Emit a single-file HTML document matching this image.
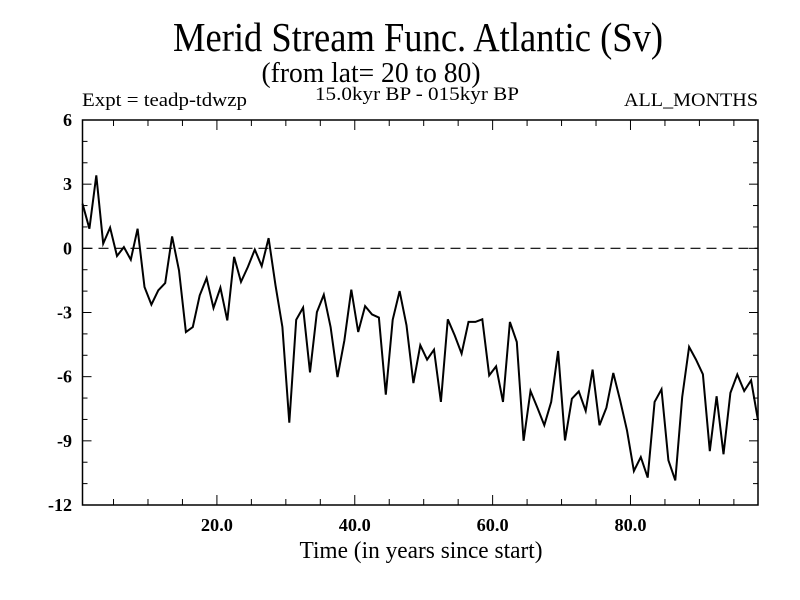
<!DOCTYPE html>
<html><head><meta charset="utf-8"><style>
html,body{margin:0;padding:0;background:#fff;}
svg{display:block;font-family:"Liberation Serif",serif;}
</style></head><body>
<svg id="chart" width="800" height="600" viewBox="0 0 800 600">
<rect width="800" height="600" fill="#fff"/>
<text x="418" y="51" font-size="41" text-anchor="middle" textLength="490" lengthAdjust="spacingAndGlyphs">Merid Stream Func. Atlantic (Sv)</text>
<text x="371" y="82" font-size="28" text-anchor="middle" textLength="219" lengthAdjust="spacingAndGlyphs">(from lat= 20 to 80)</text>
<text x="82" y="106" font-size="19" textLength="165" lengthAdjust="spacingAndGlyphs">Expt = teadp-tdwzp</text>
<text x="315" y="100" font-size="19" textLength="204" lengthAdjust="spacingAndGlyphs">15.0kyr BP - 015kyr BP</text>
<text x="624" y="106" font-size="19" textLength="134" lengthAdjust="spacingAndGlyphs">ALL_MONTHS</text>
<text x="421" y="558" font-size="24" text-anchor="middle" textLength="243" lengthAdjust="spacingAndGlyphs">Time (in years since start)</text>
<g id="axes"></g>
<g id="series"></g>
<rect x="82.5" y="120" width="675.5" height="385" fill="none" stroke="#000" stroke-width="1.5"/>
</svg>
<script>
const yTicks = [6, 3, 0, -3, -6, -9, -12];
const yTickLabels = ["6", "3", "0", "-3", "-6", "-9", "-12"];
const xTicks = [20, 40, 60, 80];
const xTickLabels = ["20.0", "40.0", "60.0", "80.0"];
const years = [];
for (let i = 0; i < 99; i++) years.push(0.5 + i);
const msf = [2.09,0.92,3.41,0.22,0.97,-0.36,0.06,-0.53,0.92,-1.81,
-2.63,-1.96,-1.62,0.56,-1.03,-3.91,-3.68,-2.2,-1.39,-2.79,
-1.84,-3.37,-0.4,-1.57,-0.87,-0.06,-0.83,0.48,-1.73,-3.68,
-8.15,-3.34,-2.77,-5.8,-2.98,-2.17,-3.68,-6.02,-4.3,-1.93,
-3.91,-2.7,-3.09,-3.24,-6.84,-3.34,-2.0,-3.6,-6.3,-4.53,
-5.2,-4.74,-7.18,-3.32,-4.07,-4.92,-3.44,-3.44,-3.32,-5.94,
-5.52,-7.18,-3.44,-4.38,-9.0,-6.67,-7.45,-8.27,-7.18,-4.8,
-8.98,-7.03,-6.69,-7.6,-5.67,-8.27,-7.45,-5.83,-7.1,-8.51,
-10.41,-9.76,-10.72,-7.18,-6.59,-9.91,-10.85,-6.95,-4.61,-5.2,
-5.89,-9.48,-6.92,-9.63,-6.76,-5.9,-6.67,-6.17,-8.04];
const X0 = 82.5, X1 = 758, Y0 = 120, Y1 = 505;
const xMin = 0.5, xMax = 98.5, yMin = -12, yMax = 6;
function xs(v){ return X0 + (v - xMin) / (xMax - xMin) * (X1 - X0); }
function ys(v){ return Y1 - (v - yMin) / (yMax - yMin) * (Y1 - Y0); }
const NS = "http://www.w3.org/2000/svg";
const axes = document.getElementById('axes');
const series = document.getElementById('series');
function mk(tag, attrs, parent){ const e = document.createElementNS(NS, tag); for (const k in attrs) e.setAttribute(k, attrs[k]); parent.appendChild(e); return e; }
for (let v = yMin; v <= yMax; v++) {
  const major = yTicks.indexOf(v) >= 0;
  const len = major ? 9 : 5;
  const y = ys(v);
  const t1 = mk('line', {x1: X0, x2: X0 + len, y1: y, y2: y, stroke: '#000', 'stroke-width': 1}, axes);
  
  
  const t2 = mk('line', {x1: X1, x2: X1 - len, y1: y, y2: y, stroke: '#000', 'stroke-width': 1}, axes);
  
  
}
yTicks.forEach((v, i) => {
  const t = mk('text', {x: 72, y: ys(v) + 6, 'font-size': 18, 'text-anchor': 'end', 'font-weight': 'bold'}, axes);
  t.textContent = yTickLabels[i];
  
  
});
for (let v = 5; v < xMax; v += 5) {
  const major = xTicks.indexOf(v) >= 0;
  const len = major ? 10 : 6;
  const x = xs(v);
  const b = mk('line', {x1: x, x2: x, y1: Y1, y2: Y1 - len, stroke: '#000', 'stroke-width': 1}, axes);
  
  
  const tp = mk('line', {x1: x, x2: x, y1: Y0, y2: Y0 + len, stroke: '#000', 'stroke-width': 1}, axes);
  
  
}
xTicks.forEach((v, i) => {
  const t = mk('text', {x: xs(v), y: 531, 'font-size': 18, 'text-anchor': 'middle', 'font-weight': 'bold', textLength: 32, lengthAdjust: 'spacingAndGlyphs'}, axes);
  t.textContent = xTickLabels[i];
  
  
});
const z = mk('line', {x1: X0, x2: X1, y1: ys(0), y2: ys(0), stroke: '#000', 'stroke-width': 1.2, 'stroke-dasharray': '10,6'}, series);


const pts = years.map((t, i) => xs(t).toFixed(1) + ',' + ys(msf[i]).toFixed(1)).join(' ');
const pl = mk('polyline', {points: pts, fill: 'none', stroke: '#000', 'stroke-width': 2, 'stroke-linejoin': 'miter'}, series);


</script>
</body></html>
